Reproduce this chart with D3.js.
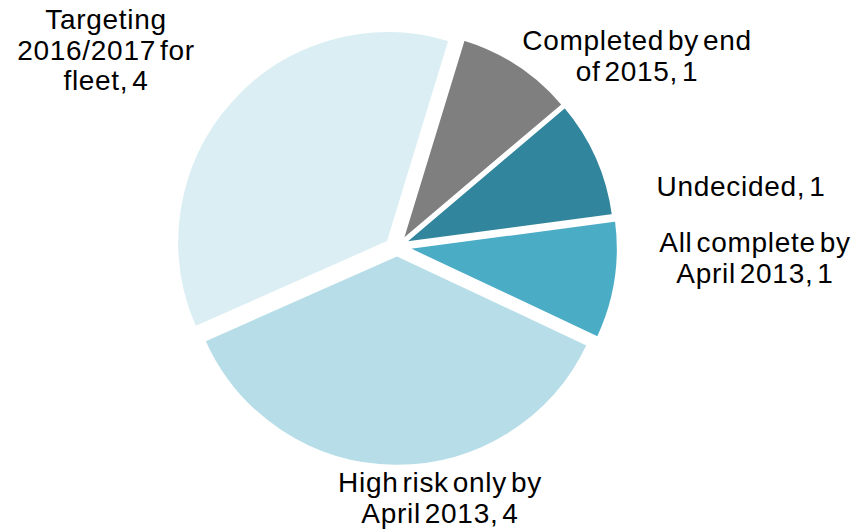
<!DOCTYPE html>
<html>
<head>
<meta charset="utf-8">
<script src="https://cdn.jsdelivr.net/npm/d3@7"></script>
<style>
  html, body { margin: 0; padding: 0; background: #ffffff; }
  svg { display: block; }
  .lbl { font-family: "Liberation Sans", Arial, sans-serif; font-size: 28px; fill: #000; word-spacing: -4.5px; letter-spacing: 0.7px; }
</style>
</head>
<body>
<svg id="chart" width="860" height="530"></svg>
<script>
// Fleet rollout status (number of organisations)
const categories = [
  "Completed by end\nof 2015",
  "Undecided",
  "All complete by\nApril 2013",
  "High risk only by\nApril 2013",
  "Targeting\n2016/2017 for\nfleet"
];
const values = [1, 1, 1, 4, 4];
const colors = ["#7f7f7f", "#31859c", "#4bacc6", "#b7dee8", "#daeef3"];

// Layout: pie centre, radius, per-slice pull-out and label anchors
const center = [401, 243];
const radius = 211;
const startDeg = 17;
const explode = [[1, -2], [3, 0], [6, 5], [-4, 12], [-13, -1]];
const labelAnchor = [[637, 50], [741, 196], [755, 252], [440, 492], [106, 29]];
const lineStep = 30.5;

const svg = d3.select("#chart");

const data = categories.map((c, i) => ({ name: c, value: values[i], i }));

const pie = d3.pie()
  .sort(null)
  .value(d => d.value)
  .startAngle(startDeg * Math.PI / 180)
  .endAngle(startDeg * Math.PI / 180 + 2 * Math.PI);

const arc = d3.arc().innerRadius(0).outerRadius(radius);

const g = svg.append("g").attr("transform", `translate(${center[0]},${center[1]})`);

g.selectAll("path.slice")
  .data(pie(data))
  .join("path")
  .attr("class", "slice")
  .attr("transform", d => `translate(${explode[d.data.i][0]},${explode[d.data.i][1]})`)
  .attr("d", arc)
  .attr("fill", d => colors[d.data.i])
  .attr("stroke", "#ffffff")
  .attr("stroke-width", 2.5)
  .attr("stroke-linejoin", "miter");

// Data labels: "category, value", wrapped on the category's line breaks
const labels = svg.append("g");
data.forEach(d => {
  const lines = (d.name + ", " + d.value).split("\n");
  const t = labels.append("text")
    .attr("class", "lbl")
    .attr("text-anchor", "middle")
    .attr("x", labelAnchor[d.i][0])
    .attr("y", labelAnchor[d.i][1]);
  lines.forEach((ln, k) => {
    t.append("tspan")
      .attr("x", labelAnchor[d.i][0])
      .attr("dy", k === 0 ? 0 : lineStep)
      .text(ln);
  });
});
</script>
</body>
</html>
